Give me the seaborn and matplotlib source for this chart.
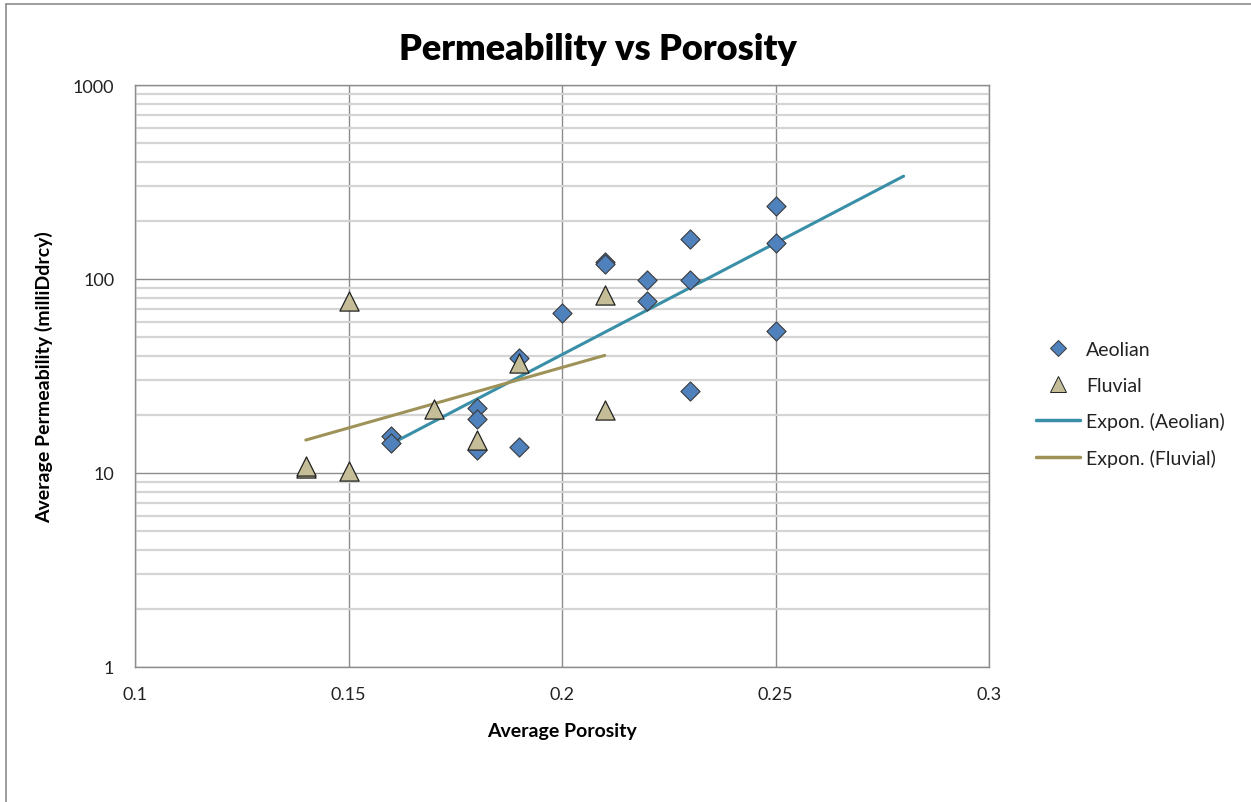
import numpy as np
import pandas as pd
import seaborn as sns
import matplotlib.pyplot as plt
from matplotlib.lines import Line2D
from matplotlib.ticker import LogLocator, FixedLocator

# data
aeolian_x = [0.16, 0.16, 0.18, 0.18, 0.18, 0.19, 0.19, 0.20, 0.21, 0.21,
             0.22, 0.22, 0.23, 0.23, 0.23, 0.25, 0.25, 0.25]
aeolian_y = [15.5, 14.3, 21.6, 19.0, 13.1, 39.0, 13.6, 66.5, 123, 120,
             99, 77, 161, 99, 26.5, 238, 153, 54]
fluvial_x = [0.14, 0.14, 0.15, 0.15, 0.17, 0.18, 0.19, 0.21, 0.21]
fluvial_y = [10.6, 10.9, 77, 10.3, 21.5, 14.8, 37, 83, 21]

aeo = pd.DataFrame({'porosity': aeolian_x, 'perm': aeolian_y})
flu = pd.DataFrame({'porosity': fluvial_x, 'perm': fluvial_y})

sns.set_style('white')
plt.rcParams['font.family'] = ['Lato', 'DejaVu Sans']

fig = plt.figure(figsize=(12.51, 8.03), dpi=100)
ax = fig.add_axes([135 / 1251, 1 - 668 / 803, (989 - 135) / 1251, (668 - 86) / 803])

sns.scatterplot(data=aeo, x='porosity', y='perm', color='#4F81BD', marker='D',
                s=95, edgecolor='#3a3a3a', linewidth=0.8, zorder=3, ax=ax)
sns.scatterplot(data=flu, x='porosity', y='perm', color='#C4BD97', marker='^',
                s=190, edgecolor='#222222', linewidth=0.9, zorder=3, ax=ax)

# exponential trendlines (fit on log values, like Excel)
def expon(xs, ys, x_end):
    b, a = np.polyfit(xs, np.log(ys), 1)
    xx = np.linspace(min(xs), x_end, 50)
    return xx, np.exp(a + b * xx)

ax_x, ax_y = expon(aeolian_x, aeolian_y, 0.28)
fl_x, fl_y = expon(fluvial_x, fluvial_y, max(fluvial_x))
sns.lineplot(x=ax_x, y=ax_y, color='#3A8FA8', linewidth=2.2, ax=ax, zorder=2)
sns.lineplot(x=fl_x, y=fl_y, color='#9E9258', linewidth=2.2, ax=ax, zorder=2)

ax.set_yscale('log')
ax.set_xlim(0.1, 0.3)
ax.set_ylim(1, 1000)
ax.xaxis.set_major_locator(FixedLocator([0.1, 0.15, 0.2, 0.25, 0.3]))
ax.set_xticklabels(['0.1', '0.15', '0.2', '0.25', '0.3'])
ax.yaxis.set_major_locator(FixedLocator([1, 10, 100, 1000]))
ax.set_yticklabels(['1', '10', '100', '1000'])
ax.yaxis.set_minor_locator(LogLocator(base=10, subs=np.arange(2, 10)))
ax.yaxis.set_minor_formatter(plt.NullFormatter())

ax.grid(True, which='major', color='#8c8c8c', linewidth=1.0)
ax.grid(True, which='minor', axis='y', color='#d4d4d4', linewidth=1.6)
ax.set_axisbelow(True)
for sp in ax.spines.values():
    sp.set_color('#8c8c8c')
    sp.set_linewidth(1.0)
ax.tick_params(axis='both', which='major', direction='out', length=7,
               color='#8c8c8c', labelsize=13, labelcolor='#222222', pad=8)
ax.tick_params(axis='y', which='minor', length=0)
ax.tick_params(axis='x', pad=7)

ax.set_xlabel('Average Porosity', fontsize=14, fontweight='bold', labelpad=14, color='black')
ax.set_ylabel('Average Permeability (milliDdrcy)', fontsize=14, fontweight='bold',
              labelpad=14, color='black')
fig.text(598 / 1251, 1 - 50 / 803, 'Permeability vs Porosity', fontsize=26,
         fontweight='heavy', ha='center', va='center', color='black')

handles = [
    Line2D([], [], linestyle='none', marker='D', markersize=8, markerfacecolor='#4F81BD',
           markeredgecolor='#3a3a3a', markeredgewidth=0.7),
    Line2D([], [], linestyle='none', marker='^', markersize=11, markerfacecolor='#C4BD97',
           markeredgecolor='#222222', markeredgewidth=0.7),
    Line2D([], [], color='#3A8FA8', linewidth=2.5),
    Line2D([], [], color='#9E9258', linewidth=2.5),
]
labels = ['Aeolian', 'Fluvial', 'Expon. (Aeolian)', 'Expon. (Fluvial)']
fig.legend(handles, labels, loc='center left', bbox_to_anchor=(1018 / 1251, 1 - 405 / 803),
           frameon=False, fontsize=14, handlelength=2.3, labelspacing=0.95, handletextpad=0.3,
           labelcolor='#222222')

# chart border (top and left edges visible)
fig.add_artist(Line2D([6 / 1251, 6 / 1251], [0, 1 - 5 / 803], color='#8c8c8c', linewidth=1.2))
fig.add_artist(Line2D([6 / 1251, 1], [1 - 5 / 803, 1 - 5 / 803], color='#8c8c8c', linewidth=1.2))

fig.savefig('out.png', dpi=100)
